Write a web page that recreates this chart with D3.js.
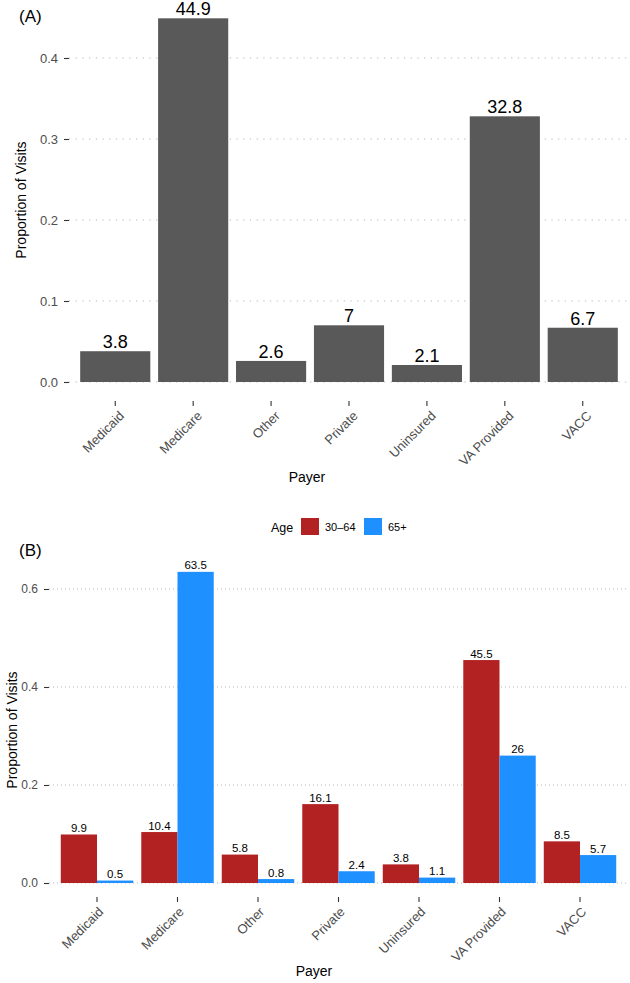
<!DOCTYPE html>
<html>
<head>
<meta charset="utf-8">
<script src="https://cdn.jsdelivr.net/npm/d3@7"></script>
<style>
  html, body { margin: 0; padding: 0; background: #fff; }
  svg { display: block; font-family: "Liberation Sans", Arial, Helvetica, sans-serif; }
</style>
</head>
<body>
<svg id="chart" width="630" height="983"></svg>
<script>
// ---- data ----
const payers = ["Medicaid", "Medicare", "Other", "Private", "Uninsured", "VA Provided", "VACC"];
const overallPct = [3.8, 44.9, 2.6, 7, 2.1, 32.8, 6.7];
const ageGroups = ["30\u201364", "65+"];
const age3064Pct = [9.9, 10.4, 5.8, 16.1, 3.8, 45.5, 8.5];
const age65Pct = [0.5, 63.5, 0.8, 2.4, 1.1, 26, 5.7];
const ticksA = [0, 0.1, 0.2, 0.3, 0.4];
const ticksB = [0, 0.2, 0.4, 0.6];
const ageColors = ["#B22222", "#1E90FF"];

const svg = d3.select("#chart");
const fmt = d3.format(".1f");

function yAxisAndGrid(g, y, ticks, left, right, fontSize, dash) {
  g.append("g").selectAll("line").data(ticks).join("line")
    .attr("x1", left).attr("x2", right)
    .attr("y1", d => y(d)).attr("y2", d => y(d))
    .attr("stroke", "#b5b5b5").attr("stroke-width", 1.1)
    .attr("stroke-dasharray", dash);
  const ax = g.append("g").attr("transform", `translate(${left},0)`)
    .call(d3.axisLeft(y).tickValues(ticks).tickFormat(fmt).tickSize(5).tickPadding(6));
  ax.select(".domain").remove();
  ax.selectAll(".tick line").attr("stroke", "#333").attr("stroke-width", 1.1);
  ax.selectAll(".tick text").attr("fill", "#4D4D4D").style("font-size", fontSize + "px")
    .style("font-family", "'Liberation Sans', Arial, Helvetica, sans-serif");
}

function xAxis(g, x, yPos, dx, labelY) {
  const ax = g.append("g").attr("transform", `translate(0,${yPos})`)
    .call(d3.axisBottom(x).tickSize(5).tickFormat(""));
  ax.select(".domain").remove();
  ax.selectAll(".tick line").attr("stroke", "#333").attr("stroke-width", 1.1);
  g.append("g").selectAll("text").data(payers).join("text")
    .attr("transform", d => `translate(${x(d) + x.bandwidth() / 2 + dx},${labelY}) rotate(-45)`)
    .attr("text-anchor", "end").attr("dy", "0.72em")
    .attr("fill", "#4D4D4D").style("font-size", "13px")
    .text(d => d);
}

// ---------- Panel A ----------
{
  const g = svg.append("g");
  const x = d3.scaleBand().domain(payers).range([68.5, 629.5]).paddingInner(0.1).paddingOuter(0.15);
  const y = d3.scaleLinear().domain([0, 0.4]).range([382, 58]);
  yAxisAndGrid(g, y, ticksA, 69, 629, 13, "1.2,5.5");
  const data = payers.map((p, i) => ({ p, v: overallPct[i] }));
  g.append("g").selectAll("rect").data(data).join("rect")
    .attr("x", d => x(d.p)).attr("width", x.bandwidth())
    .attr("y", d => y(d.v / 100)).attr("height", d => y(0) - y(d.v / 100))
    .attr("fill", "#595959");
  g.append("g").selectAll("text").data(data).join("text")
    .attr("x", d => x(d.p) + x.bandwidth() / 2).attr("y", d => y(d.v / 100) - 3)
    .attr("text-anchor", "middle").style("font-size", "18px").attr("fill", "#000")
    .text(d => d.v);
  xAxis(g, x, 401, 3, 410);
  g.append("text").attr("x", 307).attr("y", 482).attr("text-anchor", "middle")
    .style("font-size", "14px").text("Payer");
  g.append("text").attr("transform", "translate(26,200) rotate(-90)").attr("text-anchor", "middle")
    .style("font-size", "14px").text("Proportion of Visits");
  g.append("text").attr("x", 19).attr("y", 22).style("font-size", "17px").text("(A)");
}

// ---------- Panel B ----------
{
  const g = svg.append("g");
  const x = d3.scaleBand().domain(payers).range([48.7, 628.3]).paddingInner(0.1).paddingOuter(0.15);
  const x1 = d3.scaleBand().domain(ageGroups).range([0, x.bandwidth()]);
  const color = d3.scaleOrdinal().domain(ageGroups).range(ageColors);
  const y = d3.scaleLinear().domain([0, 0.6]).range([883, 589]);
  yAxisAndGrid(g, y, ticksB, 49, 628, 12, "1,3");
  const series = [age3064Pct, age65Pct];
  const data = [];
  payers.forEach((p, i) => ageGroups.forEach((a, j) => data.push({ p, a, v: series[j][i] })));
  g.append("g").selectAll("rect").data(data).join("rect")
    .attr("x", d => x(d.p) + x1(d.a)).attr("width", x1.bandwidth())
    .attr("y", d => y(d.v / 100)).attr("height", d => y(0) - y(d.v / 100))
    .attr("fill", d => color(d.a));
  g.append("g").selectAll("text").data(data).join("text")
    .attr("x", d => x(d.p) + x1(d.a) + x1.bandwidth() / 2).attr("y", d => y(d.v / 100) - 2.5)
    .attr("text-anchor", "middle").style("font-size", "11.5px").attr("fill", "#000")
    .text(d => d.v);
  xAxis(g, x, 897, 0.5, 906);
  g.append("text").attr("x", 314).attr("y", 976).attr("text-anchor", "middle")
    .style("font-size", "14px").text("Payer");
  g.append("text").attr("transform", "translate(17,730) rotate(-90)").attr("text-anchor", "middle")
    .style("font-size", "14px").text("Proportion of Visits");
  g.append("text").attr("x", 19).attr("y", 556).style("font-size", "17px").text("(B)");

  // legend
  const lg = g.append("g");
  lg.append("text").attr("x", 271).attr("y", 531.5).style("font-size", "12.5px").text("Age");
  const keyX = [301, 364];
  ageGroups.forEach((a, j) => {
    lg.append("rect").attr("x", keyX[j]).attr("y", 518).attr("width", 18).attr("height", 17)
      .attr("fill", color(a));
    lg.append("text").attr("x", keyX[j] + 24).attr("y", 531).style("font-size", "11px").text(a);
  });
}
</script>
</body>
</html>
